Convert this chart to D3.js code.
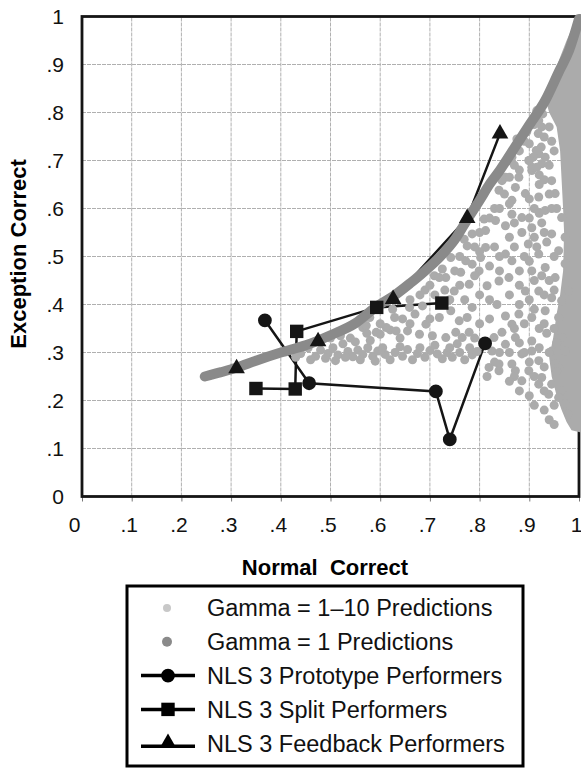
<!DOCTYPE html>
<html>
<head>
<meta charset="utf-8">
<script src="https://cdn.jsdelivr.net/npm/d3@7"></script>
<style>
	body { margin: 0; background: #fff; }
	svg { display: block; font-family: "Liberation Sans", Arial, sans-serif; }
</style>
</head>
<body>
<svg id="chart" width="581" height="770"></svg>
<script>
	'use strict';

	// tick values and their printed labels
	var tickValues = [0, .1, .2, .3, .4, .5, .6, .7, .8, .9, 1];
	var tickLabels = ["0", ".1", ".2", ".3", ".4", ".5", ".6", ".7", ".8", ".9", "1"];

	// NLS 3 performers, [normal correct, exception correct]
	var prototypePerformers = [[.368, .367], [.457, .236], [.712, .219], [.740, .119], [.811, .319]];
	var splitPerformers = [[.350, .225], [.429, .224], [.432, .344], [.593, .394], [.724, .403]];
	var feedbackPerformers = [[.311, .267], [.475, .323], [.626, .411], [.775, .580], [.841, .756]];

	// Gamma = 1 predictions (the thick band)
	var gammaOneCurve = [[.247, .250], [.28, .259], [.31, .268], [.35, .283], [.40, .300], [.45, .315],
		[.50, .336], [.55, .361], [.593, .396], [.63, .42], [.66, .444], [.69, .47], [.72, .499],
		[.75, .535], [.774, .575], [.80, .617], [.821, .652], [.841, .68], [.87, .726], [.90, .774],
		[.932, .825], [.96, .886], [.98, .929], [1.0, .995]];

	// Gamma = 1-10 predictions, single dots
	var gammaRangeDots = [
		[.42, .305], [.44, .298], [.455, .31], [.47, .292], [.48, .305], [.495, .298], [.505, .31], [.515, .295],
		[.525, .318], [.535, .302], [.545, .291], [.555, .305], [.565, .296], [.575, .31], [.585, .292], [.595, .303],
		[.61, .296], [.62, .285], [.63, .3], [.645, .292], [.655, .306], [.665, .285], [.675, .298], [.69, .29],
		[.7, .304], [.715, .297], [.725, .287], [.735, .3], [.745, .29], [.76, .3], [.77, .285], [.785, .295],
		[.43, .29], [.46, .285], [.49, .288], [.51, .283], [.53, .29], [.56, .285], [.59, .282], [.605, .31],
		[.64, .312], [.68, .31], [.71, .315], [.74, .31], [.755, .318], [.78, .31], [.795, .302],
		[.50, .33], [.52, .335], [.54, .33], [.565, .352], [.573, .34], [.62, .347], [.60, .338], [.58, .325], [.55, .322],
		[.572, .356], [.592, .342], [.612, .352], [.632, .345], [.579, .373], [.629, .373], [.625, .39], [.659, .394],
		[.685, .397], [.692, .359], [.679, .338], [.705, .335], [.719, .373], [.732, .331], [.742, .387], [.752, .342],
		[.759, .366], [.765, .331], [.775, .373], [.785, .394], [.779, .342], [.749, .428], [.779, .442], [.732, .456],
		[.709, .46], [.725, .474], [.762, .467], [.785, .484], [.802, .498], [.799, .47], [.815, .439], [.839, .449],
		[.859, .456], [.865, .491], [.852, .505], [.812, .519], [.775, .522], [.769, .536], [.785, .547], [.812, .554],
		[.832, .575], [.852, .564], [.809, .578], [.865, .588], [.885, .581], [.905, .56], [.898, .526], [.919, .505],
		[.932, .477], [.905, .47], [.892, .428], [.919, .428], [.945, .414], [.932, .387], [.905, .373], [.879, .38],
		[.852, .376], [.865, .359], [.845, .342], [.872, .331], [.905, .324], [.852, .317], [.829, .331], [.825, .303],
		[.839, .276], [.865, .276], [.885, .297], [.905, .303], [.919, .283], [.899, .262], [.925, .248], [.945, .234],
		[.952, .276], [.945, .303], [.965, .331], [.959, .373], [.965, .408], [.952, .456], [.959, .512], [.945, .547],
		[.932, .596], [.919, .624], [.892, .631], [.865, .617], [.839, .638], [.845, .658], [.879, .665], [.905, .679],
		[.899, .70], [.925, .693], [.919, .714], [.945, .658], [.952, .631], [.965, .581], [.972, .54], [.972, .485],
		[.979, .428], [.972, .303], [.959, .269], [.965, .22], [.972, .193], [.979, .172], [.959, .206], [.939, .213],
		[.919, .234], [.885, .241], [.872, .262], [.839, .262], [.819, .269], [.772, .491], [.742, .498], [.719, .456],
		[.852, .665], [.872, .644], [.865, .707], [.915, .804], [.919, .783], [.925, .77], [.918, .756], [.93, .749],
		[.924, .728], [.914, .721], [.932, .707], [.908, .707], [.905, .686], [.915, .686], [.927, .797],
		[.89, .74], [.88, .72], [.9, .735], [.94, .77], [.945, .74], [.95, .72], [.94, .69], [.93, .66], [.92, .65],
		[.91, .6], [.925, .57], [.935, .53], [.95, .50], [.94, .45], [.925, .46], [.955, .6], [.91, .54], [.885, .55],
		[.87, .52], [.88, .47], [.89, .5], [.86, .42], [.88, .40], [.9, .41], [.835, .4], [.82, .41], [.8, .42],
		[.82, .37], [.8, .36], [.79, .33], [.86, .3], [.88, .32], [.92, .31], [.935, .34], [.95, .35], [.92, .35],
		[.94, .3], [.93, .27], [.955, .26], [.91, .25], [.93, .22], [.95, .19],
		[.64, .33], [.66, .36], [.67, .38], [.70, .37], [.71, .42], [.69, .43], [.74, .41], [.76, .44], [.77, .41],
		[.79, .46], [.75, .47], [.8, .51], [.83, .52], [.84, .5], [.82, .48], [.84, .47], [.86, .54], [.83, .6],
		[.86, .61], [.85, .63], [.87, .57], [.9, .58], [.92, .59], [.9, .62], [.88, .68], [.87, .69], [.9, .7],
		[.92, .67], [.94, .63], [.945, .6], [.93, .55], [.915, .52], [.9, .49], [.88, .44], [.91, .45], [.93, .42],
		[.95, .43], [.91, .39], [.89, .36], [.87, .35], [.93, .36], [.955, .32], [.89, .3], [.9, .28], [.87, .25],
		[.86, .24], [.88, .22], [.9, .21], [.91, .19], [.93, .18], [.94, .16], [.95, .15], [.84, .3], [.83, .28],
		[.815, .25], [.86, .7], [.875, .745], [.895, .76], [.91, .775], [.86, .665], [.84, .6], [.82, .58], [.8, .55],
		[.79, .52], [.76, .5], [.73, .43], [.7, .44], [.68, .42], [.66, .41], [.645, .37], [.6, .36], [.655, .345]
	];

	// Gamma = 1-10 predictions, the solid cloud at the right edge
	var gammaRangeCloud = [[1.006, 1.0], [.99, .985], [.975, .95], [.96, .91], [.945, .865], [.932, .83],
		[.94, .80], [.955, .77], [.962, .72], [.965, .66], [.968, .60], [.97, .55], [.968, .47], [.962, .42],
		[.955, .38], [.948, .33], [.94, .29], [.945, .25], [.955, .21], [.965, .18], [.975, .155], [.985, .138],
		[1.006, .133]];

	var legendLabels = ["Gamma = 1\u201310 Predictions", "Gamma = 1 Predictions", "NLS 3 Prototype Performers",
		"NLS 3 Split Performers", "NLS 3 Feedback Performers"];

	var svg = d3.select('#chart');
	var x = d3.scaleLinear().domain([0, 1]).range([82, 579]);
	var y = d3.scaleLinear().domain([0, 1]).range([496.5, 16.5]);

	var lightGrey = '#ababab';
	var darkGrey = '#8a8a8a';

	// grid
	var grid = svg.append('g');
	grid.selectAll('line.gx').data(tickValues.slice(1, -1)).enter().append('line')
		.attr('x1', function (d) { return x(d); }).attr('x2', function (d) { return x(d); })
		.attr('y1', y(0)).attr('y2', y(1))
		.attr('stroke', '#b0b0b0').attr('stroke-width', 1).attr('stroke-dasharray', '4,1');
	grid.selectAll('line.gy').data(tickValues.slice(1, -1)).enter().append('line')
		.attr('y1', function (d) { return y(d); }).attr('y2', function (d) { return y(d); })
		.attr('x1', x(0)).attr('x2', x(1))
		.attr('stroke', '#b0b0b0').attr('stroke-width', 1).attr('stroke-dasharray', '4,1');

	// x axis with the little ticks below, labels set by hand
	var xAxis = svg.append('g')
		.attr('transform', 'translate(0,' + y(0) + ')')
		.call(d3.axisBottom(x).tickValues(tickValues).tickSize(5).tickFormat(function (d, i) { return tickLabels[i]; }));
	xAxis.select('.domain').remove();
	xAxis.selectAll('line').attr('stroke', '#777');
	xAxis.selectAll('text')
		.attr('font-size', 21).attr('fill', '#111')
		.attr('y', 21)
		.attr('dx', function (d) { return d === 0 ? -8 : -3; });

	var yAxis = svg.append('g')
		.attr('transform', 'translate(' + x(0) + ',0)')
		.call(d3.axisLeft(y).tickValues(tickValues).tickSize(0).tickFormat(function (d, i) { return tickLabels[i]; }));
	yAxis.select('.domain').remove();
	yAxis.selectAll('text')
		.attr('font-size', 21).attr('fill', '#111')
		.attr('x', -18);

	var line = d3.line()
		.x(function (d) { return x(d[0]); })
		.y(function (d) { return y(d[1]); });

	// performer lines go underneath the predictions
	var series = [
		{ data: prototypePerformers, symbol: d3.symbolCircle, size: 150 },
		{ data: splitPerformers, symbol: d3.symbolSquare, size: 180 },
		{ data: feedbackPerformers, symbol: d3.symbolTriangle, size: 120 }
	];
	series.forEach(function (s) {
		svg.append('path').datum(s.data)
			.attr('d', line)
			.attr('fill', 'none').attr('stroke', '#151515').attr('stroke-width', 2.5);
	});

	// frame
	svg.append('rect')
		.attr('x', x(0)).attr('y', y(1))
		.attr('width', x(1) - x(0)).attr('height', y(0) - y(1))
		.attr('fill', 'none').attr('stroke', '#151515').attr('stroke-width', 2.8);

	// gamma 1-10 predictions
	svg.append('path').datum(gammaRangeCloud)
		.attr('d', line.curve(d3.curveLinearClosed))
		.attr('fill', lightGrey);
	line.curve(d3.curveLinear);
	svg.append('g').selectAll('circle').data(gammaRangeDots).enter().append('circle')
		.attr('cx', function (d) { return x(d[0]); })
		.attr('cy', function (d) { return y(d[1]); })
		.attr('r', 4.5)
		.attr('fill', lightGrey);

	// gamma 1 band
	svg.append('path').datum(gammaOneCurve)
		.attr('d', line.curve(d3.curveMonotoneX))
		.attr('fill', 'none').attr('stroke', darkGrey)
		.attr('stroke-width', 10).attr('stroke-linecap', 'round');
	line.curve(d3.curveLinear);

	// markers on top
	series.forEach(function (s) {
		svg.append('g').selectAll('path').data(s.data).enter().append('path')
			.attr('transform', function (d) { return 'translate(' + x(d[0]) + ',' + y(d[1]) + ')'; })
			.attr('d', d3.symbol().type(s.symbol).size(s.size))
			.attr('fill', '#151515');
	});

	// axis titles
	svg.append('text')
		.attr('x', 325).attr('y', 575)
		.attr('text-anchor', 'middle').attr('font-size', 22).attr('font-weight', 'bold')
		.attr('xml:space', 'preserve')
		.text('Normal  Correct');
	svg.append('text')
		.attr('transform', 'translate(26,254) rotate(-90)')
		.attr('text-anchor', 'middle').attr('font-size', 22).attr('font-weight', 'bold')
		.text('Exception Correct');

	// legend
	var legend = svg.append('g');
	legend.append('rect')
		.attr('x', 127).attr('y', 586).attr('width', 396).attr('height', 180)
		.attr('fill', '#fff').attr('stroke', '#000').attr('stroke-width', 3);

	var rowY = function (i) { return 608 + i * 33.8; };
	legend.selectAll('text').data(legendLabels).enter().append('text')
		.attr('x', 207).attr('y', function (d, i) { return rowY(i); })
		.attr('dy', '0.36em').attr('font-size', 23.5).attr('fill', '#111')
		.text(function (d) { return d; });

	legend.append('circle').attr('cx', 167).attr('cy', rowY(0)).attr('r', 4).attr('fill', '#c8c8c8');
	legend.append('circle').attr('cx', 167).attr('cy', rowY(1)).attr('r', 5).attr('fill', darkGrey);
	series.forEach(function (s, i) {
		var yy = rowY(i + 2);
		legend.append('line')
			.attr('x1', 141).attr('x2', 195).attr('y1', yy + (i === 2 ? 3 : 0)).attr('y2', yy + (i === 2 ? 3 : 0))
			.attr('stroke', '#000').attr('stroke-width', 3.5);
		legend.append('path')
			.attr('transform', 'translate(168,' + yy + ')')
			.attr('d', d3.symbol().type(s.symbol).size(s.size))
			.attr('fill', '#000');
	});
</script>
</body>
</html>
